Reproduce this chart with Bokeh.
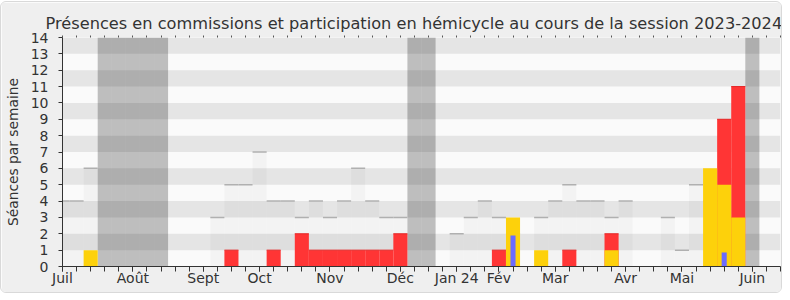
from bokeh.plotting import figure
from bokeh.models import FixedTicker, LinearAxis, Range1d
from bokeh.embed import file_html
from bokeh.resources import INLINE

# ---- data (one entry per week of the session, week 0 = early July 2023) ----
weeks = list(range(52))
# all sessions of the week (light grey bars)
total_sessions = [4, 4, 6, 0, 0, 0, 0, 0, 0, 0, 0, 3, 5, 5, 7, 4, 4, 3, 4, 3,
                  4, 6, 4, 3, 3, 0, 0, 0, 2, 3, 4, 3, 2, 0, 3, 4, 5, 4, 4, 3,
                  4, 0, 0, 3, 1, 5, 4, 4, 3, 0, 0, 0]
# presences en commission (red)
commission = [0, 0, 0, 0, 0, 0, 0, 0, 0, 0, 0, 0, 1, 0, 0, 1, 0, 2, 1, 1,
              1, 1, 1, 1, 2, 0, 0, 0, 0, 0, 0, 1, 0, 0, 0, 0, 1, 0, 0, 2,
              0, 0, 0, 0, 0, 0, 0, 9, 11, 0, 0, 0]
# participation en hemicycle (yellow)
hemicycle = [0, 0, 1, 0, 0, 0, 0, 0, 0, 0, 0, 0, 0, 0, 0, 0, 0, 0, 0, 0,
             0, 0, 0, 0, 0, 0, 0, 0, 0, 0, 0, 0, 3, 0, 1, 0, 0, 0, 0, 1,
             0, 0, 0, 0, 0, 0, 6, 5, 3, 0, 0, 0]
# questions (blue thin bars)
questions = [0] * 32 + [1.9] + [0] * 14 + [0.85] + [0] * 4
# parliamentary holidays
vacation_weeks = [3, 4, 5, 6, 7, 25, 26, 49]
month_ticks = [0, 5, 10, 14, 19, 24, 28, 31, 35, 40, 44, 49]
month_labels = ["Juil", "Août", "Sept", "Oct", "Nov", "Déc", "Jan 24",
                "Fév", "Mar", "Avr", "Mai", "Juin"]
y_max = 14

FONT = "DejaVu Sans"
TXT = "#333333"

p = figure(width=782, height=292, output_backend="svg", toolbar_location=None,
           x_range=Range1d(0, 51), y_range=Range1d(0, y_max),
           min_border_left=61, min_border_right=3, min_border_top=35,
           min_border_bottom=28,
           title="Présences en commissions et participation en hémicycle au cours de la session 2023-2024")
p.margin = (1, 0, 0, 0)
p.styles = {"border": "1px solid #d9d9d9", "border-radius": "6px", "overflow": "hidden"}
p.border_fill_color = "#efefef"
p.background_fill_color = "#fafafa"
p.outline_line_color = None
p.grid.visible = False

p.title.text_font = FONT
p.title.text_font_size = "16.2px"
p.title.text_font_style = "normal"
p.title.text_color = TXT
p.title.align = "left"
p.title.offset = -17
p.title.standoff = 6

# horizontal stripes
stripe_y = [k + 0.5 for k in range(1, y_max, 2)]
p.hbar(y=stripe_y, height=1, left=-1, right=53, fill_color="#e5e5e5", line_color=None)

# holidays
p.vbar(x=vacation_weeks, width=1, bottom=0, top=y_max, fill_color="black",
       fill_alpha=0.24, line_color=None)

# light grey weekly totals
gw = [w for w, v in zip(weeks, total_sessions) if v > 0]
gv = [v for v in total_sessions if v > 0]
p.vbar(x=gw, width=1, bottom=0, top=gv, fill_color="black", fill_alpha=0.028, line_color=None)
p.segment(x0=[w - 0.5 for w in gw], x1=[w + 0.5 for w in gw], y0=gv, y1=gv,
          line_color="#b0b0b0", line_width=1.5)

# commission (red)
rw = [w for w, v in zip(weeks, commission) if v > 0]
rv = [v for v in commission if v > 0]
p.vbar(x=rw, width=1, bottom=0, top=rv, fill_color="#ff3535", line_color=None)
p.segment(x0=[w - 0.5 for w in rw], x1=[w + 0.5 for w in rw], y0=rv, y1=rv,
          line_color="#e42424", line_width=1)

# hemicycle (yellow)
yw = [w for w, v in zip(weeks, hemicycle) if v > 0]
yv = [v for v in hemicycle if v > 0]
p.vbar(x=yw, width=1, bottom=0, top=yv, fill_color="#fdd10b", line_color=None)

# questions (blue)
bw = [w for w, v in zip(weeks, questions) if v > 0]
bv = [v for v in questions if v > 0]
p.vbar(x=bw, width=0.36, bottom=0, top=bv, fill_color="#6b6bff", line_color=None)

# axes
xa = p.xaxis[0]
xa.ticker = FixedTicker(ticks=month_ticks, minor_ticks=weeks)
xa.major_label_overrides = {t: l for t, l in zip(month_ticks, month_labels)}
xa.major_tick_out = 5
xa.major_tick_in = 0
xa.minor_tick_out = 5
xa.minor_tick_in = 0
xa.axis_line_color = "#333333"
xa.major_tick_line_color = "#333333"
xa.minor_tick_line_color = "#333333"
xa.major_label_text_font = FONT
xa.major_label_text_font_size = "14px"
xa.major_label_text_color = TXT
xa.major_label_standoff = -2

ya = p.yaxis[0]
ya.ticker = FixedTicker(ticks=list(range(0, y_max + 1)), minor_ticks=[])
ya.major_tick_out = 4
ya.major_tick_in = 0
ya.axis_line_color = "#333333"
ya.major_tick_line_color = "#333333"
ya.major_label_text_font = FONT
ya.major_label_text_font_size = "14px"
ya.major_label_text_color = TXT
ya.major_label_standoff = 10
ya.axis_label = "Séances par semaine"
ya.axis_label_text_font = FONT
ya.axis_label_text_font_size = "13.8px"
ya.axis_label_text_font_style = "normal"
ya.axis_label_text_color = TXT
ya.axis_label_standoff = 7

top = LinearAxis(ticker=FixedTicker(ticks=weeks, minor_ticks=[]))
top.major_tick_out = 2
top.major_tick_in = 0
top.major_tick_line_color = "#555555"
top.axis_line_color = None
top.major_label_overrides = {w: "" for w in weeks}
top.major_label_standoff = 0
p.add_layout(top, "above")

open("out.html", "w").write(file_html(p, INLINE))
